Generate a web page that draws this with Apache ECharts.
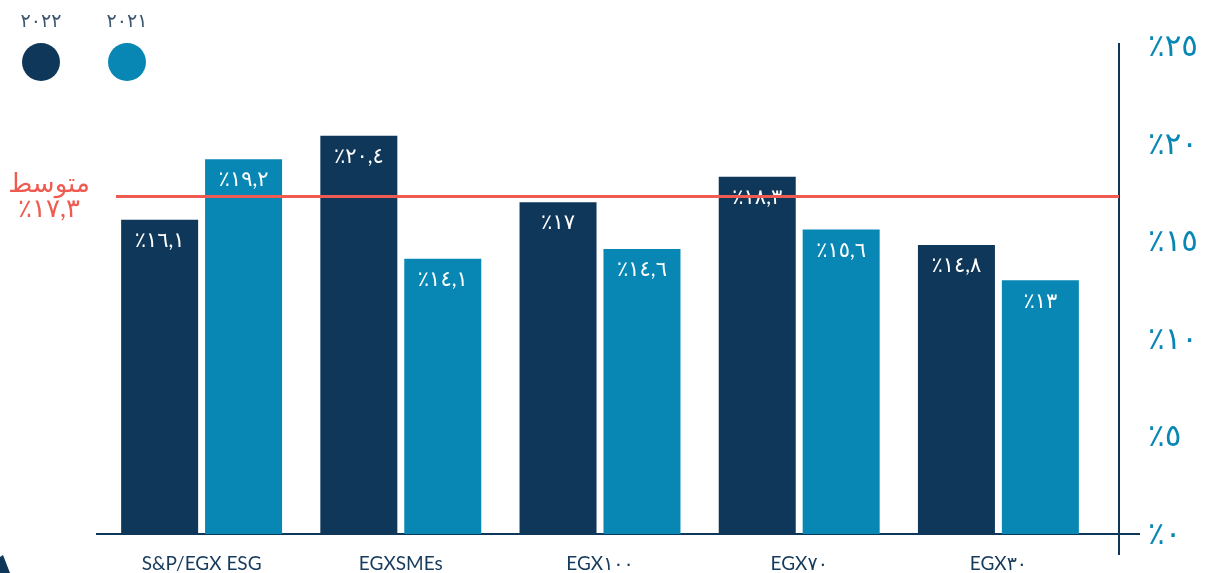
<!DOCTYPE html>
<html>
<head>
    <meta charset="utf-8">
    <title>EGX indices</title>
    <style>
        html, body { margin: 0; padding: 0; background: #ffffff; }
        #chart { width: 1205px; height: 573px; }
    </style>
</head>
<body>
<div id="chart"></div>
<script src="https://cdn.jsdelivr.net/npm/echarts@6/dist/echarts.min.js"></script>
<script type="text/javascript">

    // البيانات
    var categories = ['S&P/EGX ESG', 'EGXSMEs', 'EGX١٠٠', 'EGX٧٠', 'EGX٣٠'];
    var seriesNames = ['٢٠٢٢', '٢٠٢١'];
    var values2022 = [16.1, 20.4, 17, 18.3, 14.8];
    var values2021 = [19.2, 14.1, 14.6, 15.6, 13];
    var avgValue = 17.3;
    var avgTitle = 'متوسط';
    var yTickLabels = ['٪٠', '٪٥', '٪١٠', '٪١٥', '٪٢٠', '٪٢٥'];

    var navy = '#0f3759';
    var teal = '#0887b4';
    var red = '#ef5b50';
    var font = "Lato, 'DejaVu Sans', sans-serif";

    // أرقام عربية مشرقية
    function toArabic(v) {
        var d = '٠١٢٣٤٥٦٧٨٩';
        return String(v).replace(/[0-9]/g, function (c) { return d[+c]; }).replace('.', ',');
    }
    function pct(v) { return '٪' + toArabic(v); }

    var barLabel = {
        show: true,
        position: 'insideTop',
        distance: 10,
        color: '#ffffff',
        fontSize: 21,
        fontFamily: font,
        formatter: function (p) { return pct(p.value); }
    };

    var myChart = echarts.init(document.getElementById('chart'));
    myChart.setOption({
        animation: false,
        grid: { left: 102, right: 107, top: 46, bottom: 39 },
        legend: {
            left: 17, top: 38,
            icon: 'circle',
            itemWidth: 38, itemHeight: 38,
            itemGap: 48,
            formatter: function () { return ''; },
            data: seriesNames
        },
        xAxis: {
            type: 'category',
            data: categories,
            axisLine: { show: true, lineStyle: { color: navy, width: 2 } },
            axisTick: { show: false },
            axisLabel: { color: '#163a5c', fontSize: 19, fontFamily: font, margin: 20 }
        },
        yAxis: {
            type: 'value',
            position: 'right',
            offset: 21,
            min: 0, max: 25, interval: 5,
            splitLine: { show: false },
            axisTick: { show: false },
            axisLine: { show: true, lineStyle: { color: navy, width: 2 } },
            axisLabel: {
                color: teal, fontSize: 31, fontFamily: font, margin: 29,
                formatter: function (v) { return yTickLabels[v / 5]; }
            }
        },
        series: [
            {
                name: seriesNames[0],
                type: 'bar',
                barWidth: 77,
                barGap: '9%',
                itemStyle: { color: navy },
                label: barLabel,
                data: values2022,
                markLine: {
                    silent: true,
                    symbol: 'none',
                    lineStyle: { color: red, width: 3, type: 'solid' },
                    label: {
                        show: true,
                        position: 'start',
                        align: 'center',
                        distance: 67,
                        color: red,
                        fontSize: 26,
                        lineHeight: 25,
                        fontFamily: font,
                        formatter: avgTitle + '\n' + pct(avgValue)
                    },
                    data: [[{ x: 116, yAxis: avgValue }, { x: 1119, yAxis: avgValue }]]
                }
            },
            {
                name: seriesNames[1],
                type: 'bar',
                barWidth: 77,
                itemStyle: { color: teal },
                label: barLabel,
                data: values2021
            }
        ],
        graphic: [
            // امتداد خطوط المحاور
            { type: 'line', shape: { x1: 96, y1: 534, x2: 1140, y2: 534 }, style: { stroke: navy, lineWidth: 2 } },
            { type: 'line', shape: { x1: 1119, y1: 534, x2: 1119, y2: 555 }, style: { stroke: navy, lineWidth: 2 } },
            { type: 'line', shape: { x1: 1119, y1: 43, x2: 1119, y2: 47 }, style: { stroke: navy, lineWidth: 2 } },
            // أسماء السنوات فوق الدوائر
            { type: 'text', x: 41, y: 21, style: { text: seriesNames[0], fill: '#3d5670', font: '19px ' + font, align: 'center', verticalAlign: 'middle' } },
            { type: 'text', x: 127, y: 21, style: { text: seriesNames[1], fill: '#3d5670', font: '19px ' + font, align: 'center', verticalAlign: 'middle' } },
            { type: 'polygon', shape: { points: [[0, 573], [0, 557], [3, 555], [10, 573]] }, style: { fill: navy } }
        ]
    });

</script>
</body>
</html>
